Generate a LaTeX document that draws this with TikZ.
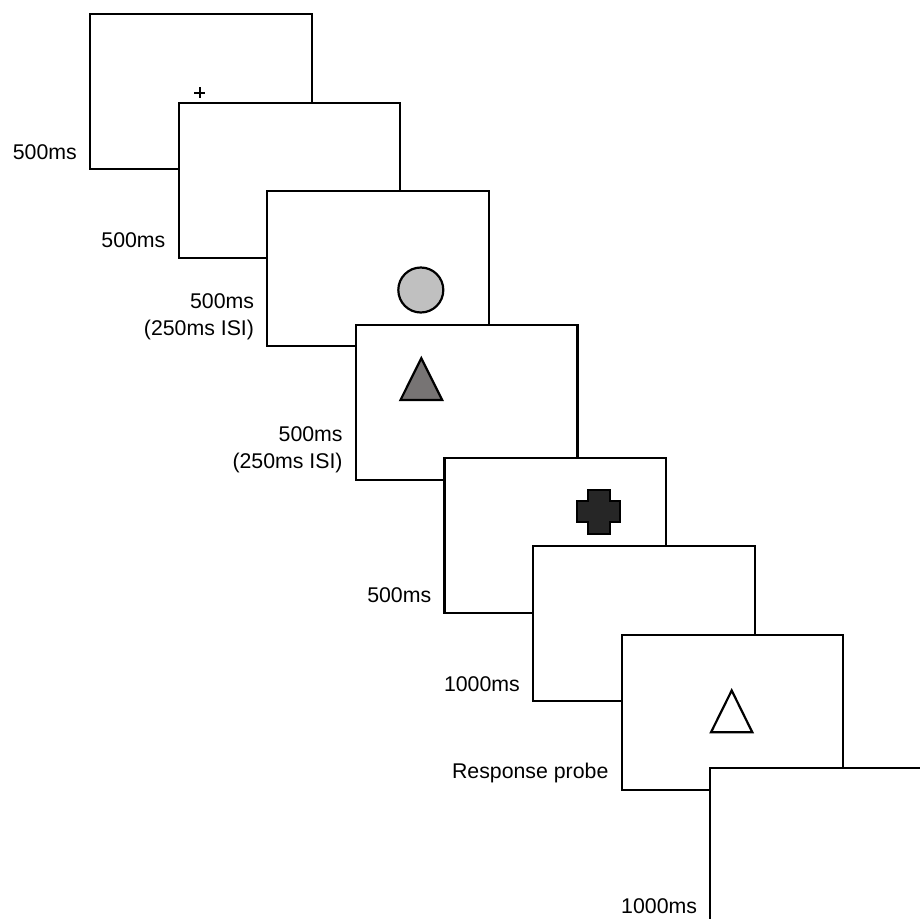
\documentclass[tikz,border=0pt]{standalone}
\usepackage{fontspec}
\setmainfont{Liberation Sans}
\definecolor{circgray}{RGB}{192,192,192}
\definecolor{trigray}{RGB}{119,116,116}
\definecolor{crossgray}{RGB}{38,38,38}
\begin{document}
\begin{tikzpicture}[x=1pt,y=-1pt,
  frame/.style={draw, line width=2.2pt, fill=white, minimum width=221.5pt,
    minimum height=155pt, inner sep=0pt, anchor=north west},
  lbl/.style={font=\fontsize{21.3}{27}\selectfont, inner sep=0pt,
    anchor=base east, align=right},
  shp/.style={draw, line width=2.2pt, line join=miter}]
\useasboundingbox (0,0) rectangle (920,918);
% frame 1
\node[frame] (f1) at (89,13) {};
\draw[line width=2pt] (194,92.5) -- (205,92.5) (199.5,87) -- (199.5,98);
\node[lbl] (l1) at ([shift={(-12pt,11pt)}]f1.south west) {500ms};
% frame 2
\node[frame] (f2) at (177.6,101.5) {};
\node[lbl] (l2) at ([shift={(-12pt,11pt)}]f2.south west) {500ms};
% frame 3
\node[frame] (f3) at (266.2,190) {};
\draw[shp, fill=circgray] (420.8,290) circle[radius=22.5pt];
\node[lbl] (l3) at ([shift={(-12pt,12pt)}]f3.south west) {500ms\\(250ms ISI)};
% frame 4
\node[frame] (f4) at (354.8,323.5) {};
\draw[shp, fill=trigray] (421.3,358.2) -- (442.2,400) -- (400.5,400) -- cycle;
\node[lbl] (l4) at ([shift={(-12pt,12pt)}]f4.south west) {500ms\\(250ms ISI)};
% frame 5
\node[frame] (f5) at (443.4,456.5) {};
\draw[shp, fill=crossgray] (587.7,490.3) -- (609.7,490.3) -- (609.7,501) -- (620.3,501)
  -- (620.3,522.3) -- (609.7,522.3) -- (609.7,533.7) -- (587.7,533.7) -- (587.7,522.3)
  -- (576.7,522.3) -- (576.7,501) -- (587.7,501) -- cycle;
\node[lbl] (l5) at ([shift={(-12pt,11pt)}]f5.south west) {500ms};
% frame 6
\node[frame] (f6) at (532,545) {};
\node[lbl] (l6) at ([shift={(-12pt,11pt)}]f6.south west) {1000ms};
% frame 7
\node[frame] (f7) at (620.6,633.5) {};
\draw[shp, fill=white] (731.7,690.5) -- (752.3,732.3) -- (711,732.3) -- cycle;
\node[lbl] (l7) at ([shift={(-12pt,12pt)}]f7.south west) {Response probe};
% frame 8
\node[frame] (f8) at (709.2,767) {};
\node[lbl] (l8) at ([shift={(-12pt,11pt)}]f8.south west) {1000ms};
\end{tikzpicture}
\end{document}
